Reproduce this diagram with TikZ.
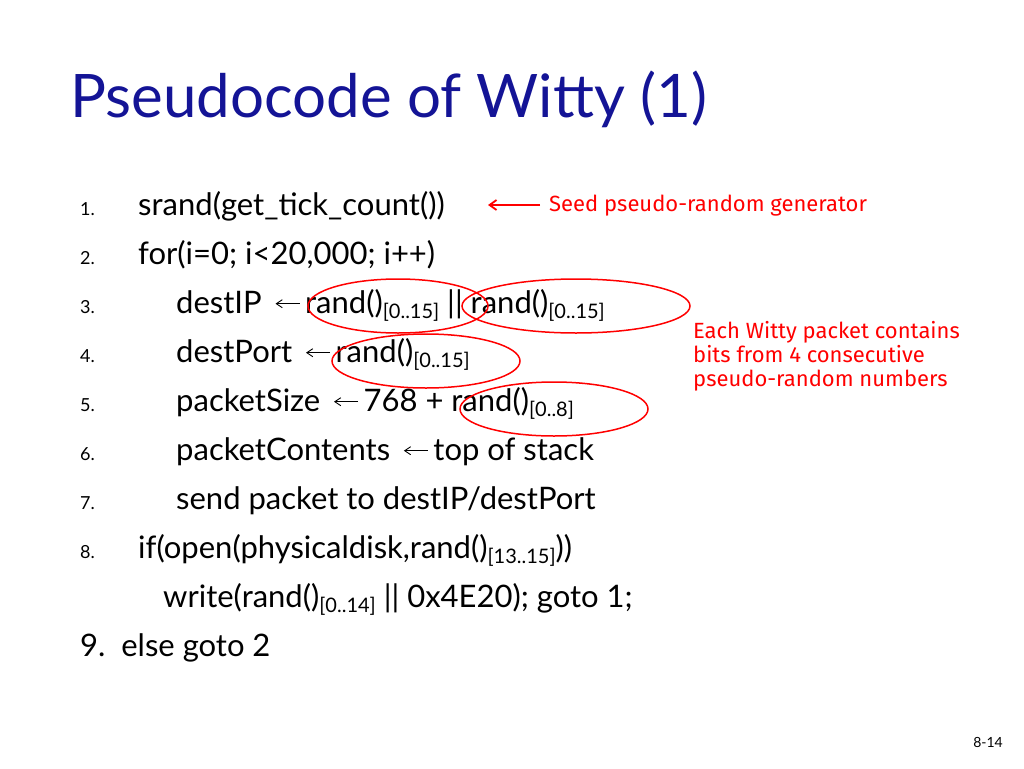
\documentclass[tikz,border=0pt]{standalone}
\usepackage{fontspec}
\setmainfont{Lato}
\newfontfamily\notefont{Fira Sans}
\usetikzlibrary{shapes.geometric,arrows.meta}
\definecolor{ttl}{RGB}{20,20,150}
\newcommand{\lowsub}[1]{\raisebox{-0.35ex}{\fontsize{20}{20}\selectfont[#1]}}
\newcommand{\larr}{\,\tikz[baseline]\draw[-{Straight Barb[length=6pt,width=8pt]},line width=0.9pt](24pt,0.3em)--(0,0.3em);\,}
\begin{document}
\begin{tikzpicture}[x=1pt,y=-1pt,
  code/.style={anchor=base west,inner sep=0,font=\fontsize{31}{31}\selectfont},
  num/.style={anchor=base west,inner sep=0,font=\fontsize{18}{18}\selectfont},
  note/.style={anchor=base west,inner sep=0,text=red,font=\notefont\fontsize{22}{22}\selectfont},
  ring/.style={draw=red,line width=1.5pt,ellipse,inner sep=0}]
\useasboundingbox (0,0) rectangle (1024,768);
\node[anchor=base west,inner sep=0,text=ttl,font=\fontsize{60}{60}\selectfont] (title) at (70,117) {Pseudocode of Witty (1)};
\foreach \n/\y in {1/215,2/264,3/313,4/362,5/411,6/460,7/509,8/558}
  \node[num] (n\n) at (80,\y) {\n.};
\node[code] (l1) at (138,215) {srand(get\_tick\_count())};
\node[code] (l2) at (138,264) {for(i=0; i<20,000; i++)};
\node[code] (l3) at (176,313) {destIP \larr rand()\lowsub{0..15} || rand()\lowsub{0..15}};
\node[code] (l4) at (176,362) {destPort \larr rand()\lowsub{0..15}};
\node[code] (l5) at (176,411) {packetSize \larr 768 + rand()\lowsub{0..8}};
\node[code] (l6) at (176,460) {packetContents \larr top of stack};
\node[code] (l7) at (176,509) {send packet to destIP/destPort};
\node[code] (l8) at (138,558) {if(open(physicaldisk,rand()\lowsub{13..15}))};
\node[code] (l8b) at (163,607) {write(rand()\lowsub{0..14} || 0x4E20); goto 1;};
\node[code] (l9) at (80,656) {9.\ \ else goto 2};
\node[ring,minimum width=180,minimum height=54] (e1) at (398,306) {};
\node[ring,minimum width=228,minimum height=54] (e2) at (576,306) {};
\node[ring,minimum width=188,minimum height=54] (e3) at (426,361) {};
\node[ring,minimum width=188,minimum height=54] (e4) at (554,409) {};
\node[note] (seed) at (549,211) {Seed pseudo-random generator};
\coordinate (arrs) at (540,205);
\coordinate (arre) at (488,205);
\draw[red,line width=1.8pt,-{Straight Barb[length=7pt,width=10pt]}] (arrs) -- (arre);
\node[note] (each1) at (693,338) {Each Witty packet contains};
\node[note] (each2) at (693,362) {bits from 4 consecutive};
\node[note] (each3) at (693,386) {pseudo-random numbers};
\node[anchor=base east,inner sep=0,font=\fontsize{14}{14}\selectfont] (pg) at (1003,747) {8-14};
\end{tikzpicture}
\end{document}
